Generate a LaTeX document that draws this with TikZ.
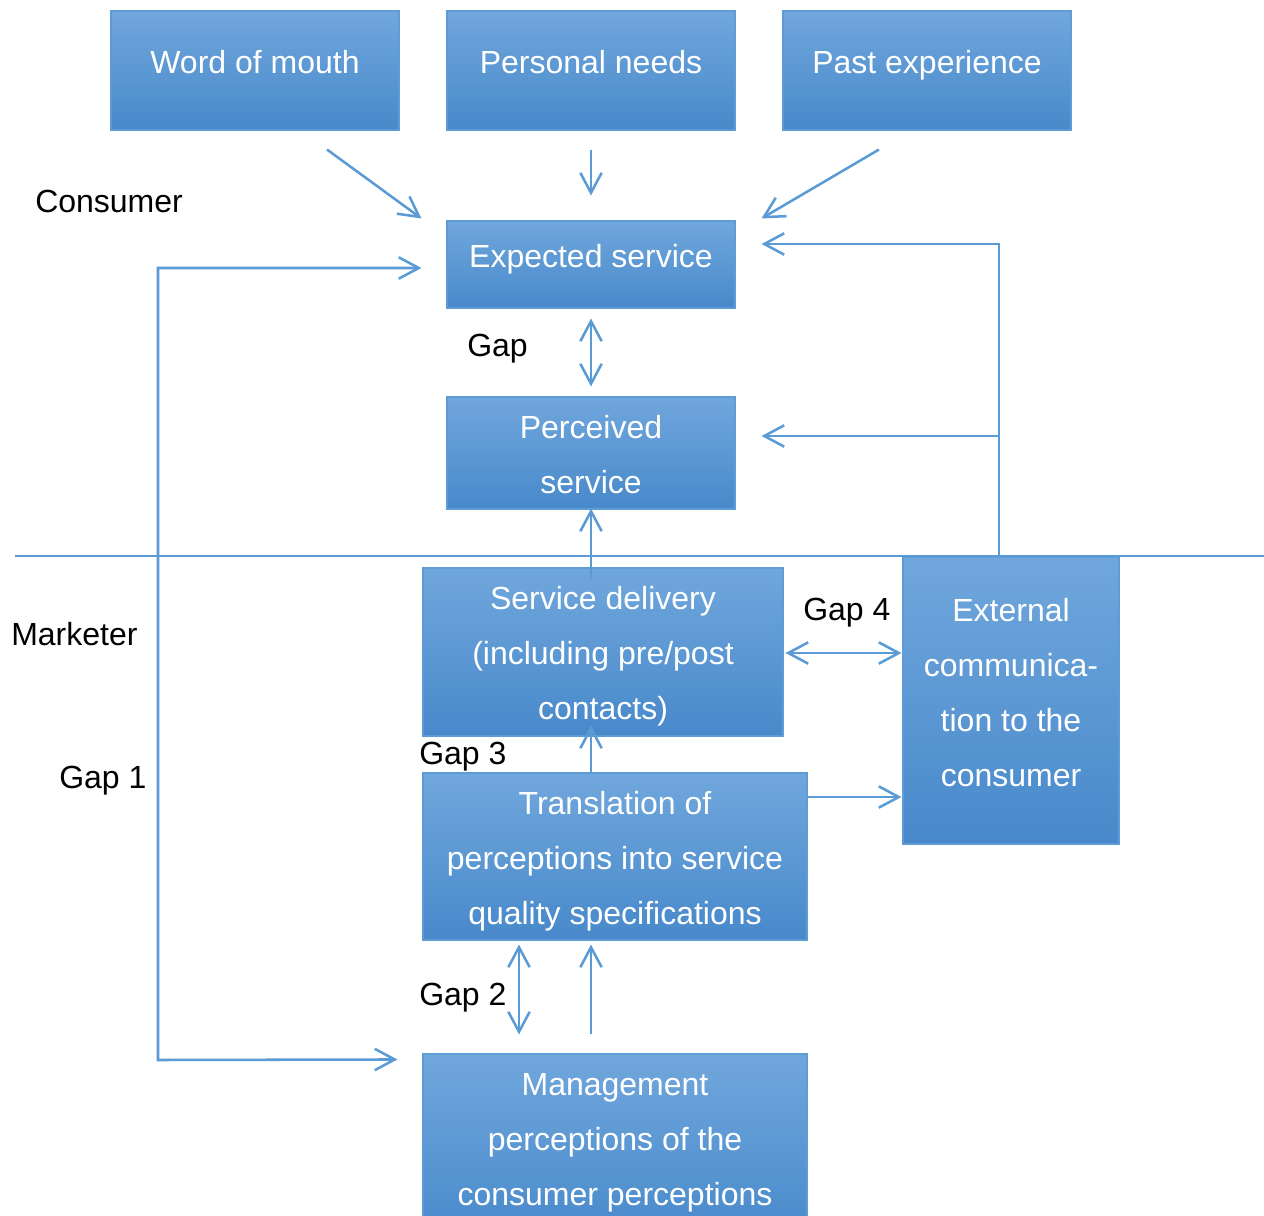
\documentclass[tikz,border=0pt]{standalone}
\usepackage{fontspec}
\setmainfont{Liberation Sans}
\usetikzlibrary{arrows.meta,fit,calc}
\definecolor{linkblue}{HTML}{5B9BD5}
\definecolor{boxtop}{HTML}{70A7DC}
\definecolor{boxbot}{HTML}{4889CB}
\definecolor{boxedge}{HTML}{5E9CD6}
\tikzset{
  box/.style={draw=boxedge, line width=0.8pt, top color=boxtop, bottom color=boxbot, inner sep=0pt},
  boxtext/.style={text=white, align=center, font=\fontsize{24}{41.25}\selectfont, inner sep=0pt, text depth=0pt},
  lbl/.style={text=black, font=\fontsize{24}{30}\selectfont, inner sep=0pt, text depth=0pt},
  link/.style={draw=linkblue, line width=1.9pt},
  arr/.style={link, -{Straight Barb[length=15pt,width=16pt,line width=1.9pt]}},
  biarr/.style={link, {Straight Barb[length=15pt,width=16pt,line width=1.9pt]}-{Straight Barb[length=15pt,width=16pt,line width=1.9pt]}}
}
\begin{document}
\begin{tikzpicture}[x=0.75pt,y=-0.75pt]
\useasboundingbox (0,0) rectangle (1264,1216);
\clip (0,0) rectangle (1264,1216);

% consumer side boxes
\node[box, fit={(111,11) (399,130)}] (wom) {};
\node[boxtext] (wom-t) at (255,62) {Word of mouth};
\node[box, fit={(447,11) (735,130)}] (pn) {};
\node[boxtext] (pn-t) at (591,62) {Personal needs};
\node[box, fit={(783,11) (1071,130)}] (pe) {};
\node[boxtext] (pe-t) at (927,62) {Past experience};
\node[box, fit={(447,221) (735,308)}] (exp) {};
\node[boxtext] (exp-t) at (591,256) {Expected service};
\node[box, fit={(447,397) (735,509)}] (perc) {};
\node[boxtext] (perc-t) at (591,454) {Perceived\\service};

% marketer side boxes
\node[box, fit={(423,568) (783,736)}] (sd) {};
\node[boxtext] (sd-t) at (603,653) {Service delivery\\(including pre/post\\contacts)};
\node[box, fit={(903,557) (1119,844)}] (ext) {};
\node[boxtext] (ext-t) at (1011,692) {External\\communica-\\tion to the\\consumer};
\node[box, fit={(423,773) (807,940)}] (tr) {};
\node[boxtext] (tr-t) at (615,858) {Translation of\\perceptions into service\\quality specifications};
\node[box, fit={(423,1054) (807,1240)}] (mg) {};
\node[boxtext] (mg-t) at (615,1139) {Management\\perceptions of the\\consumer perceptions};

% labels
\node[lbl, anchor=west] (l-cons) at (35,201) {Consumer};
\node[lbl, anchor=west] (l-mark) at (11,634) {Marketer};
\node[lbl, anchor=west] (l-g1) at (59,777) {Gap 1};
\node[lbl, anchor=west] (l-g) at (467,345) {Gap};
\node[lbl, anchor=west] (l-g3) at (419,753) {Gap 3};
\node[lbl, anchor=west] (l-g4) at (803,609) {Gap 4};
\node[lbl, anchor=west] (l-g2) at (419,994) {Gap 2};

% boundary between consumer and marketer
\coordinate (sepL) at (15,556);
\coordinate (sepR) at (1264,556);
\draw[link] (sepL) -- (sepR);

% expectations
\draw[arr] ([shift={(72,19)}]wom.south) -- ([shift={(-25,-2)}]exp.north west);
\draw[arr] ([shift={(0,19)}]pn.south) -- ([shift={(0,65)}]pn.south);
\draw[arr] ([shift={(-48,19)}]pe.south) -- ([shift={(26,-2)}]exp.north east);

% gap between expected and perceived
\draw[biarr] ([shift={(0,10)}]exp.south) -- ([shift={(0,-10)}]perc.north);

% gap 1 loop
\coordinate (g1top) at (158,268);
\coordinate (g1bot) at (158,1060);
\draw[biarr] ([shift={(-25,3.5)}]exp.west) -- (g1top) -- (g1bot) -- ([shift={(-25,6)}]mg.north west);

% external communication feedback
\coordinate (extup) at ([xshift=-12*0.75pt]ext.north);
\coordinate (expR) at ([shift={(26,-20.5)}]exp.east);
\coordinate (percR) at ([shift={(26,-17)}]perc.east);
\draw[arr] (extup) |- (expR);
\draw[arr] (extup |- percR) -- (percR);

% delivery to perceived
\draw[arr] ([shift={(-12,12)}]sd.north) -- ([shift={(0,-1)}]perc.south);

% gap 3
\draw[arr] ([shift={(-24,0)}]tr.north) -- ([shift={(-12,-11)}]sd.south);

% gap 4
\coordinate (g4a) at ([shift={(2,1)}]sd.east);
\draw[biarr] (g4a) -- ([xshift=-0.75pt]g4a -| ext.west);

% translation to external
\coordinate (tra) at ([shift={(0,-59.5)}]tr.east);
\draw[arr] (tra) -- ([xshift=-0.75pt]tra -| ext.west);

% gap 2
\draw[biarr] ([shift={(-96,4)}]tr.south) -- ([shift={(-96,-19)}]mg.north);
\draw[arr] ([shift={(-24,-19)}]mg.north) -- ([shift={(-24,4)}]tr.south);
\end{tikzpicture}
\end{document}
